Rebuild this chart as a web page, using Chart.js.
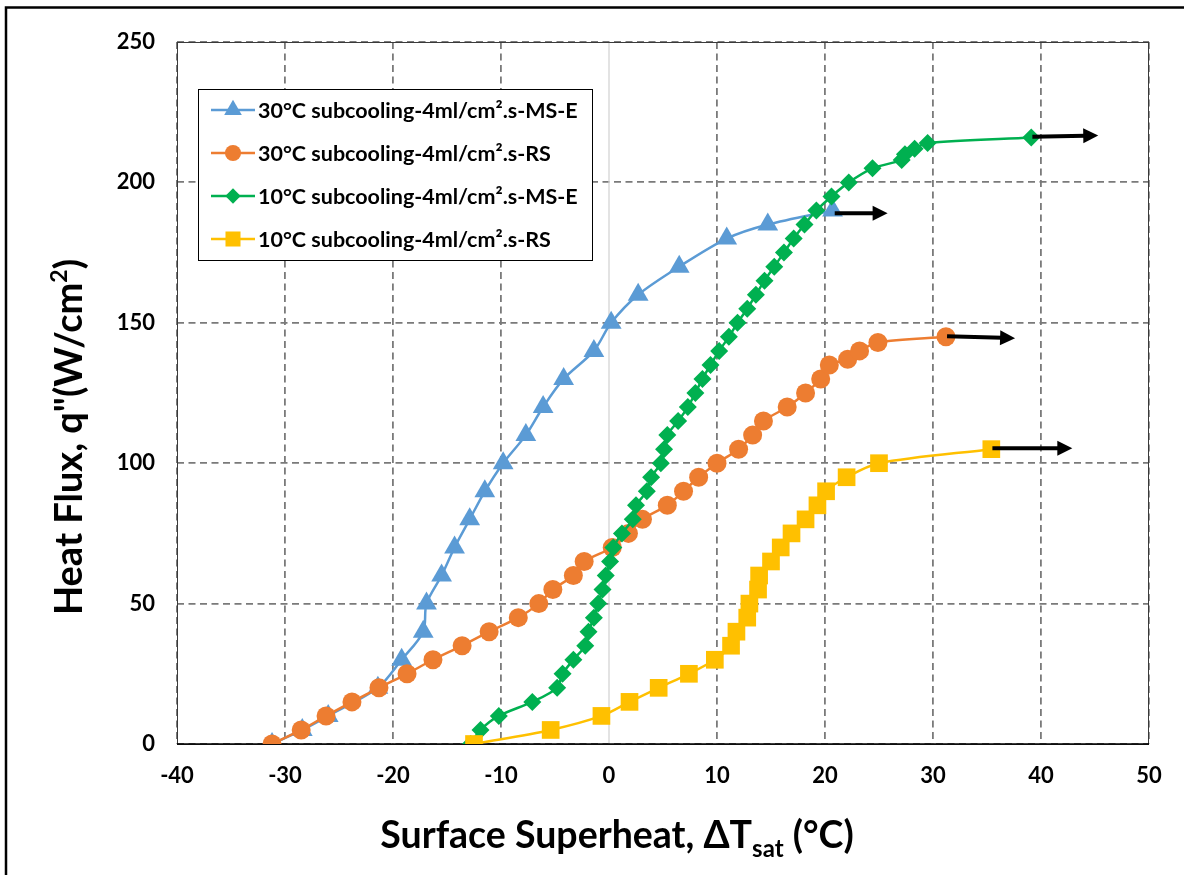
<!DOCTYPE html>
<html>
<head>
<meta charset="utf-8">
<script src="https://cdn.jsdelivr.net/npm/chart.js@4"></script>
<style>
  html, body { margin: 0; padding: 0; background: #fff; }
  #wrap { position: relative; width: 1184px; height: 875px; }
</style>
</head>
<body>
<div id="wrap"><canvas id="boilingChart" width="1184" height="875"></canvas></div>
<script>
// data (x = surface superheat in °C, y = heat flux in W/cm²)
const s30MSE_x = [-31.2, -28.4, -26.0, -21.4, -19.2, -17.2, -16.9, -15.5, -14.3, -12.9, -11.5, -9.8, -7.7, -6.1, -4.2, -1.4, 0.2, 2.7, 6.5, 10.9, 14.7, 20.7];
const s30MSE_q = [0, 5, 10, 20, 30, 40, 50, 60, 70, 80, 90, 100, 110, 120, 130, 140, 150, 160, 170, 180, 185, 190];

const s30RS_x = [-31.2, -28.5, -26.2, -23.8, -21.3, -18.7, -16.3, -13.6, -11.1, -8.4, -6.5, -5.2, -3.3, -2.3, 0.3, 1.8, 3.1, 5.4, 6.9, 8.3, 10.0, 12.0, 13.3, 14.3, 16.5, 18.2, 19.6, 20.4, 22.1, 23.2, 24.9, 31.2];
const s30RS_q = [0, 5, 10, 15, 20, 25, 30, 35, 40, 45, 50, 55, 60, 65, 70, 75, 80, 85, 90, 95, 100, 105, 110, 115, 120, 125, 130, 135, 137, 140, 143, 145];

const s10MSE_x = [-12.8, -11.9, -10.2, -7.1, -4.8, -4.3, -3.3, -2.2, -1.9, -1.4, -1.0, -0.6, -0.3, 0.1, 0.4, 1.2, 2.2, 2.5, 3.5, 3.9, 4.8, 5.1, 5.4, 6.4, 7.3, 8.0, 8.65, 9.4, 10.2, 11.1, 11.9, 12.8, 13.6, 14.4, 15.3, 16.2, 17.1, 18.1, 19.2, 20.6, 22.2, 24.4, 27.1, 27.4, 28.3, 29.5, 39.1];
const s10MSE_q = [0, 5, 10, 15, 20, 25, 30, 35, 40, 45, 50, 55, 60, 65, 70, 75, 80, 85, 90, 95, 100, 105, 110, 115, 120, 125, 130, 135, 140, 145, 150, 155, 160, 165, 170, 175, 180, 185, 190, 195, 200, 205, 208, 210, 212, 214, 216];

const s10RS_x = [-12.5, -5.4, -0.7, 1.9, 4.6, 7.4, 9.8, 11.3, 11.8, 12.8, 13.0, 13.8, 13.9, 15.0, 15.9, 16.9, 18.2, 19.3, 20.1, 22.0, 25.0, 35.4];
const s10RS_q = [0, 5, 10, 15, 20, 25, 30, 35, 40, 45, 50, 55, 60, 65, 70, 75, 80, 85, 90, 95, 100, 105];

const seriesNames = ['30°C subcooling-4ml/cm².s-MS-E', '30°C subcooling-4ml/cm².s-RS', '10°C subcooling-4ml/cm².s-MS-E', '10°C subcooling-4ml/cm².s-RS'];

// black arrows after the last point of each curve (start x, end x, start q, end q)
const arrowX0 = [20.9, 31.3, 39.2, 35.5];
const arrowX1 = [25.8, 37.6, 45.3, 42.9];
const arrowQ0 = [189, 145.2, 216.3, 105.3];
const arrowQ1 = [189, 144.5, 216.7, 105.3];

const xTicks = [-40, -30, -20, -10, 0, 10, 20, 30, 40, 50];
const yTicks = [0, 50, 100, 150, 200, 250];

const colors = ['#5B9BD5', '#ED7D31', '#00B050', '#FFC000'];
const styles = ['triangle', 'circle', 'rectRot', 'rect'];
const radii = [12, 9.5, 9, 12.5];

function pts(xs, qs) {
    return xs.map((x, i) => ({ x: x, y: qs[i] }));
}

const allData = [pts(s30MSE_x, s30MSE_q), pts(s30RS_x, s30RS_q), pts(s10MSE_x, s10MSE_q), pts(s10RS_x, s10RS_q)];

const FONT = 'Lato, "Open Sans", sans-serif';

// marker drawing for the legend, same geometry as Chart.js point styles
function drawMarker(ctx, style, x, y, r, color) {
    ctx.save();
    ctx.fillStyle = color;
    ctx.beginPath();
    if (style === 'circle') {
        ctx.arc(x, y, r, 0, Math.PI * 2);
    } else if (style === 'triangle') {
        ctx.moveTo(x, y - r);
        ctx.lineTo(x + Math.sin(2 * Math.PI / 3) * r, y - Math.cos(2 * Math.PI / 3) * r);
        ctx.lineTo(x + Math.sin(4 * Math.PI / 3) * r, y - Math.cos(4 * Math.PI / 3) * r);
    } else if (style === 'rectRot') {
        ctx.moveTo(x - r, y);
        ctx.lineTo(x, y - r);
        ctx.lineTo(x + r, y);
        ctx.lineTo(x, y + r);
    } else {
        const s = Math.SQRT1_2 * r;
        ctx.rect(x - s, y - s, 2 * s, 2 * s);
    }
    ctx.closePath();
    ctx.fill();
    ctx.restore();
}

const decorPlugin = {
    id: 'decor',
    beforeDatasetsDraw(chart) {
        const { ctx, chartArea: a, scales } = chart;
        ctx.save();
        // solid light zero line (value axis crossing)
        const x0 = scales.x.getPixelForValue(0);
        ctx.strokeStyle = '#d0d0d0';
        ctx.lineWidth = 1.2;
        ctx.beginPath();
        ctx.moveTo(x0, a.top);
        ctx.lineTo(x0, a.bottom);
        ctx.stroke();
        // plot frame
        ctx.strokeStyle = '#3a3a3a';
        ctx.lineWidth = 1;
        ctx.strokeRect(a.left + 0.5, a.top + 0.5, a.right - a.left - 1, a.bottom - a.top);
        ctx.strokeStyle = '#000';
        ctx.lineWidth = 1.6;
        ctx.beginPath();
        ctx.moveTo(a.left, a.bottom);
        ctx.lineTo(a.right, a.bottom);
        ctx.stroke();
        ctx.restore();
    },
    afterDatasetsDraw(chart) {
        const { ctx, scales } = chart;
        ctx.save();
        // arrows
        for (let i = 0; i < arrowX0.length; i++) {
            const px0 = scales.x.getPixelForValue(arrowX0[i]);
            const px1 = scales.x.getPixelForValue(arrowX1[i]);
            const py0 = scales.y.getPixelForValue(arrowQ0[i]);
            const py1 = scales.y.getPixelForValue(arrowQ1[i]);
            const ang = Math.atan2(py1 - py0, px1 - px0);
            const headLen = 15, headW = 7.5;
            const bx = px1 - Math.cos(ang) * headLen, by = py1 - Math.sin(ang) * headLen;
            ctx.strokeStyle = '#000';
            ctx.lineWidth = 4;
            ctx.beginPath();
            ctx.moveTo(px0, py0);
            ctx.lineTo(bx + Math.cos(ang) * 2, by + Math.sin(ang) * 2);
            ctx.stroke();
            ctx.fillStyle = '#000';
            ctx.beginPath();
            ctx.moveTo(px1, py1);
            ctx.lineTo(bx - Math.sin(ang) * headW, by + Math.cos(ang) * headW);
            ctx.lineTo(bx + Math.sin(ang) * headW, by - Math.cos(ang) * headW);
            ctx.closePath();
            ctx.fill();
        }
        // legend box
        const lx = 198, ly = 89, lw = 394, lh = 171;
        ctx.fillStyle = '#fff';
        ctx.fillRect(lx, ly, lw, lh);
        ctx.strokeStyle = '#000';
        ctx.lineWidth = 1;
        ctx.strokeRect(lx + 0.5, ly + 0.5, lw, lh);
        ctx.font = 'bold 21.5px ' + FONT;
        ctx.textBaseline = 'middle';
        ctx.textAlign = 'left';
        for (let i = 0; i < seriesNames.length; i++) {
            const y = 110 + i * 43;
            ctx.strokeStyle = colors[i];
            ctx.lineWidth = 2.5;
            ctx.beginPath();
            ctx.moveTo(211, y);
            ctx.lineTo(255, y);
            ctx.stroke();
            drawMarker(ctx, styles[i], 233, y, radii[i] * 0.85, colors[i]);
            ctx.fillStyle = '#000';
            ctx.fillText(seriesNames[i], 258, y + 1);
        }
        ctx.restore();
    },
    afterDraw(chart) {
        const { ctx } = chart;
        ctx.save();
        ctx.fillStyle = '#000';
        ctx.textBaseline = 'alphabetic';
        ctx.textAlign = 'left';
        // x axis title with subscript
        const big = 'bold 37.5px ' + FONT, small = 'bold 24px ' + FONT;
        const parts = [['Surface Superheat, ΔT', big, 0], ['sat', small, 9], [' (°C)', big, 0]];
        let total = 0;
        parts.forEach(p => { ctx.font = p[1]; total += ctx.measureText(p[0]).width; });
        let cx = 617 - total / 2;
        parts.forEach(p => { ctx.font = p[1]; ctx.fillText(p[0], cx, 848 + p[2]); cx += ctx.measureText(p[0]).width; });
        // y axis title with superscript
        ctx.translate(82, 437);
        ctx.rotate(-Math.PI / 2);
        const yb = 'bold 38px ' + FONT, ys = 'bold 23px ' + FONT;
        const yparts = [['Heat Flux, q"(W/cm', yb, 0], ['2', ys, -15], [')', yb, 0]];
        total = 0;
        yparts.forEach(p => { ctx.font = p[1]; total += ctx.measureText(p[0]).width; });
        cx = -total / 2;
        yparts.forEach(p => { ctx.font = p[1]; ctx.fillText(p[0], cx, p[2]); cx += ctx.measureText(p[0]).width; });
        ctx.restore();
        // outer frame (left and top edges visible)
        ctx.save();
        ctx.strokeStyle = '#000';
        ctx.lineWidth = 2.5;
        ctx.beginPath();
        ctx.moveTo(6, 880);
        ctx.lineTo(6, 7.5);
        ctx.lineTo(1190, 7.5);
        ctx.stroke();
        ctx.restore();
    }
};

const ctx = document.getElementById('boilingChart').getContext('2d');
const boilingChart = new Chart(ctx, {
    type: 'scatter',
    data: {
        datasets: allData.map((d, i) => ({
            label: seriesNames[i],
            data: d,
            showLine: true,
            borderColor: colors[i],
            backgroundColor: colors[i],
            borderWidth: 2.5,
            tension: 0.3,
            pointStyle: styles[i],
            pointRadius: radii[i],
            pointBorderWidth: 0,
            pointBackgroundColor: colors[i],
            pointBorderColor: colors[i],
            order: 4 - i
        }))
    },
    options: {
        responsive: false,
        animation: false,
        layout: { padding: { left: 0, top: 42, right: 35, bottom: 0 } },
        plugins: {
            legend: { display: false },
            tooltip: { enabled: false }
        },
        scales: {
            x: {
                type: 'linear',
                min: -40,
                max: 50,
                afterBuildTicks: s => { s.ticks = xTicks.map(v => ({ value: v })); },
                afterFit: s => { s.height = 131; },
                ticks: { color: '#000', font: { family: FONT, size: 22, weight: 'bold' }, padding: 19, maxRotation: 0 },
                grid: {
                    drawTicks: false,
                    color: c => (c.tick && c.tick.value === 0) ? 'rgba(0,0,0,0)' : '#7a7a7a',
                    lineWidth: 1.8
                },
                border: { display: false, dash: [7, 4.5] }
            },
            y: {
                type: 'linear',
                min: 0,
                max: 250,
                afterBuildTicks: s => { s.ticks = yTicks.map(v => ({ value: v })); },
                afterFit: s => { s.width = 177; },
                ticks: { color: '#000', font: { family: FONT, size: 22, weight: 'bold' }, padding: 22 },
                grid: { drawTicks: false, color: '#7a7a7a', lineWidth: 1.8 },
                border: { display: false, dash: [7, 4.5] }
            }
        }
    },
    plugins: [decorPlugin]
});
</script>
</body>
</html>
